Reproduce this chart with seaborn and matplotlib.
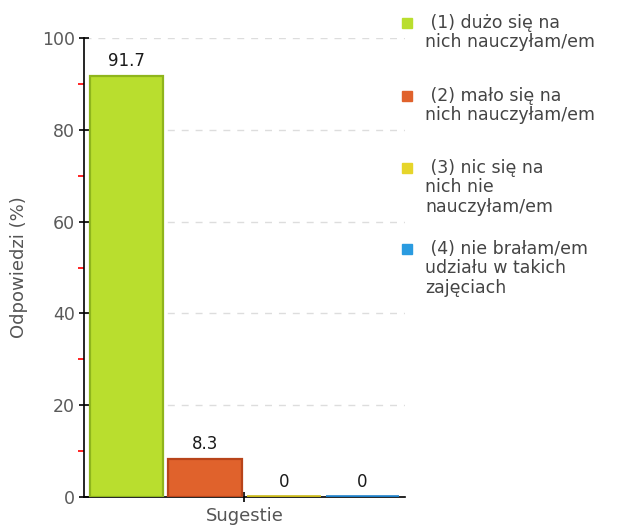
import pandas as pd
import seaborn as sns
import matplotlib.pyplot as plt
from matplotlib.lines import Line2D
from matplotlib.ticker import MultipleLocator

# dane
categories = [
    "(1) dużo się na\nnich nauczyłam/em",
    "(2) mało się na\nnich nauczyłam/em",
    "(3) nic się na\nnich nie\nnauczyłam/em",
    "(4) nie brałam/em\nudziału w takich\nzajęciach",
]
values = [91.7, 8.3, 0, 0]
labels = ["91.7", "8.3", "0", "0"]
colors = ["#b9de2e", "#e0622c", "#e6d52a", "#2a9be0"]
edges = ["#8fb51c", "#b8441a", "#c9b818", "#1c7fc8"]

sns.set_style("white")
plt.rcParams["font.family"] = ["DejaVu Sans"]

df = pd.DataFrame({"grupa": ["Sugestie"] * 4, "kat": categories, "val": values})

W, H = 624, 527
fig = plt.figure(figsize=(W / 100, H / 100), dpi=100)
ax = fig.add_axes([84 / W, 1 - 497 / H, 321 / W, 459 / H])

sns.barplot(data=df, x="grupa", y="val", hue="kat", hue_order=categories,
            palette=colors, saturation=1, width=0.98, ax=ax, legend=False, zorder=3)

# zwężenie słupków i obramowania
for p, ec in zip(ax.patches, edges):
    w = p.get_width()
    p.set_x(p.get_x() + w * 0.03)
    p.set_width(w * 0.94)
    p.set_edgecolor(ec)
    # słupki zerowe widoczne jako gruba linia
    p.set_linewidth(1.6 if p.get_height() > 0 else 2.6)

for p, t in zip(ax.patches, labels):
    ax.text(p.get_x() + p.get_width() / 2, p.get_height() + 1.3, t,
            ha="center", va="bottom", fontsize=12, color="#1a1a1a")

ax.set_xlim(-0.5, 0.5)
ax.set_ylim(0, 100)
ax.yaxis.set_major_locator(MultipleLocator(20))
ax.yaxis.set_minor_locator(MultipleLocator(10))
ax.yaxis.grid(True, which="major", linestyle=(0, (5, 5)), color="#dddddd", linewidth=1)
ax.set_axisbelow(True)

for s in ["top", "right"]:
    ax.spines[s].set_visible(False)
for s in ["left", "bottom"]:
    ax.spines[s].set_color("black")
    ax.spines[s].set_linewidth(1.2)

ax.tick_params(axis="y", which="major", direction="inout", length=7, width=1.2,
               color="black", labelsize=12.5, labelcolor="#5a5a5a", left=True, pad=3)
ax.tick_params(axis="y", which="minor", direction="out", length=4, width=1.2,
               color="red", left=True)
ax.tick_params(axis="x", which="major", direction="inout", length=7, width=1.2,
               color="black", labelbottom=False, bottom=True)
ax.set_xticks([0])

ax.set_xlabel("Sugestie", fontsize=13, color="#555555", labelpad=4)
ax.set_ylabel("Odpowiedzi (%)", fontsize=13, color="#555555", labelpad=10)

# legenda po prawej, znacznik przy pierwszej linii
leg_y = [23, 96, 168, 249]
for cat, c, y in zip(categories, colors, leg_y):
    fig.add_artist(Line2D([407 / W], [1 - y / H], marker="s", markersize=7,
                          markerfacecolor=c, markeredgecolor=c, linestyle="",
                          transform=fig.transFigure))
    fig.text(425 / W, 1 - (y - 9) / H, " " + cat, ha="left", va="top",
             fontsize=12.5, color="#444444", linespacing=1.1)

plt.savefig("out.png", dpi=100)
